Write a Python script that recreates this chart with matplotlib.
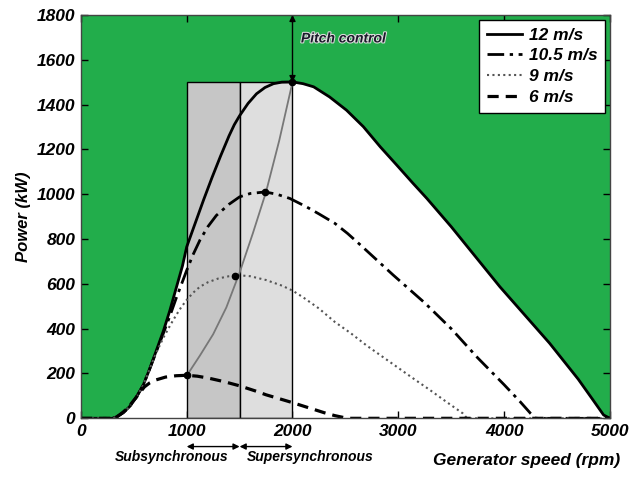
import matplotlib
matplotlib.use("Agg")
import matplotlib.pyplot as plt
import matplotlib.patheffects as pe
from matplotlib.patches import Rectangle

# power curves (rpm, kW)
speed_12 = [0, 300, 340, 400, 460, 525, 590, 650, 715, 780, 840, 900, 960, 1000, 1080, 1160, 1240,
            1320, 1400, 1450, 1500, 1580, 1660, 1740, 1820, 1900, 2000, 2100, 2200, 2350, 2510, 2670,
            2830, 2985, 3140, 3270, 3500, 3960, 4430, 4700, 4840, 4940, 5000]
power_12 = [0, 0, 7, 25, 52, 95, 149, 220, 305, 390, 480, 580, 680, 765, 870, 975, 1075,
            1170, 1260, 1310, 1350, 1405, 1448, 1476, 1493, 1500, 1501, 1493, 1479, 1434, 1375, 1301,
            1211, 1130, 1048, 981, 855, 587, 335, 175, 82, 15, 0]

speed_105 = [0, 300, 340, 400, 460, 525, 590, 650, 715, 780, 840, 900, 960, 1000, 1060, 1125,
             1200, 1280, 1400, 1500, 1600, 1740, 1850, 1975, 2130, 2250, 2400, 2520, 2650, 2800,
             2950, 3250, 3500, 3750, 4000, 4150, 4250, 4300, 5000]
power_105 = [0, 0, 7, 25, 52, 95, 149, 220, 300, 380, 455, 535, 610, 660, 730, 795,
             855, 905, 955, 988, 1003, 1010, 1000, 981, 944, 912, 870, 825, 770, 705,
             640, 515, 400, 270, 150, 75, 22, 0, 0]

speed_9 = [0, 300, 340, 400, 460, 525, 590, 650, 700, 780, 850, 900, 950, 1000, 1060, 1125,
           1200, 1300, 1400, 1500, 1600, 1750, 1900, 2000, 2100, 2250, 2400, 2550, 2700, 2850,
           3000, 3150, 3300, 3450, 3610, 3650, 5000]
power_9 = [0, 0, 7, 25, 52, 95, 149, 220, 280, 360, 420, 460, 497, 528, 560, 587,
           607, 624, 634, 638, 634, 617, 592, 570, 540, 490, 430, 380, 325, 275,
           225, 175, 126, 75, 22, 0, 0]

speed_6 = [0, 300, 350, 400, 450, 500, 550, 600, 650, 700, 800, 900, 1000, 1100, 1200, 1350,
           1500, 1650, 1750, 1900, 2000, 2100, 2200, 2300, 2400, 2500, 2550, 5000]
power_6 = [0, 0, 10, 28, 50, 80, 110, 140, 158, 170, 184, 190, 192, 188, 180, 164,
           145, 122, 105, 84, 70, 55, 40, 25, 12, 2, 0, 0]

# optimal (max power point) curve
speed_opt = [1000, 1125, 1250, 1375, 1500, 1625, 1750, 1875, 2000]
power_opt = [190, 280, 375, 495, 650, 825, 1010, 1240, 1500]

peak_speed = [1000, 1460, 1740, 2000]
peak_power = [192, 636, 1010, 1500]

sync_speed = 1500
slip_min, slip_max = 1000, 2000
rated_power = 1500
y_max = 1800

green = "#22ad4b"
fnt = "Liberation Sans"

fig = plt.figure(figsize=(6.42, 4.8), dpi=100)
ax = fig.add_axes([0.126, 0.1285, 0.824, 0.8405])
ax.set_facecolor(green)

ax.fill_between(speed_12, power_12, color="white", zorder=1, lw=0)

ax.add_patch(Rectangle((slip_min, 0), sync_speed - slip_min, rated_power,
                       facecolor="#c6c6c6", edgecolor="black", lw=1, zorder=2))
ax.add_patch(Rectangle((sync_speed, 0), slip_max - sync_speed, rated_power,
                       facecolor="#dedede", edgecolor="black", lw=1, zorder=2))

ax.plot(speed_opt, power_opt, color="#777777", lw=1.3, zorder=3)

ax.plot(speed_12, power_12, color="black", lw=2, zorder=4, label="12 m/s")
ax.plot(speed_105, power_105, color="black", lw=2, ls=(0, (6, 2, 1.2, 2)), zorder=4, label="10.5 m/s")
ax.plot(speed_9, power_9, color="#555555", lw=1.5, ls=(0, (1, 1.6)), zorder=4, label="9 m/s")
ax.plot(speed_6, power_6, color="black", lw=2.3, ls=(0, (3.5, 2.2)), zorder=4, label="6 m/s")

ax.plot(peak_speed, peak_power, "o", color="black", ms=4.5, zorder=5)

# pitch control arrow
ax.annotate("", xy=(slip_max, rated_power), xytext=(slip_max, y_max),
            arrowprops=dict(arrowstyle="<|-|>", color="black", lw=1, mutation_scale=9,
                            shrinkA=0, shrinkB=0), zorder=6)
ax.text(slip_max + 80, 1695, "Pitch control", fontsize=10, fontweight="bold", style="italic",
        family=fnt, color="#1a1a2a", va="center", zorder=6,
        path_effects=[pe.withStroke(linewidth=1.5, foreground="#dddddd")])

ax.set_xlim(0, 5000)
ax.set_ylim(0, y_max)
ax.set_xticks(range(0, 5001, 1000))
ax.set_yticks(range(0, 1801, 200))
ax.tick_params(direction="in", top=True, right=True, length=5, width=1, pad=4)
for lab in ax.get_xticklabels() + ax.get_yticklabels():
    lab.set_fontsize(12.5)
    lab.set_fontweight("bold")
    lab.set_style("italic")
    lab.set_family(fnt)
for s in ax.spines.values():
    s.set_linewidth(1)
    s.set_color("#444444")
    s.set_zorder(7)

ax.set_ylabel("Power (kW)", fontsize=12, fontweight="bold", style="italic", family=fnt)
ax.set_xlabel("Generator speed (rpm)", fontsize=12.5, fontweight="bold", style="italic", family=fnt)
ax.xaxis.set_label_coords(0.843, -0.085)

# sub / super synchronous arrows under the axis
trans = ax.get_xaxis_transform()
for a, b in [(slip_min, sync_speed), (sync_speed, slip_max)]:
    ax.annotate("", xy=(a, -0.07), xytext=(b, -0.07), xycoords=trans, textcoords=trans,
                arrowprops=dict(arrowstyle="<|-|>", color="black", lw=1, mutation_scale=9,
                                shrinkA=0, shrinkB=0), annotation_clip=False)
ax.text(860, -0.095, "Subsynchronous", transform=trans, fontsize=10, fontweight="bold",
        style="italic", family=fnt, ha="center", va="center")
ax.text(2165, -0.095, "Supersynchronous", transform=trans, fontsize=10, fontweight="bold",
        style="italic", family=fnt, ha="center", va="center")

leg = ax.legend(loc="upper right", bbox_to_anchor=(0.991, 0.988), borderaxespad=0,
                fancybox=False, framealpha=1, edgecolor="black", handlelength=2.0,
                labelspacing=0.32, handletextpad=0.4, borderpad=0.45,
                prop=dict(family=fnt, weight="bold", style="italic", size=12.5))
leg.get_frame().set_linewidth(1)
leg.set_zorder(8)

fig.savefig("out.png", dpi=100)
